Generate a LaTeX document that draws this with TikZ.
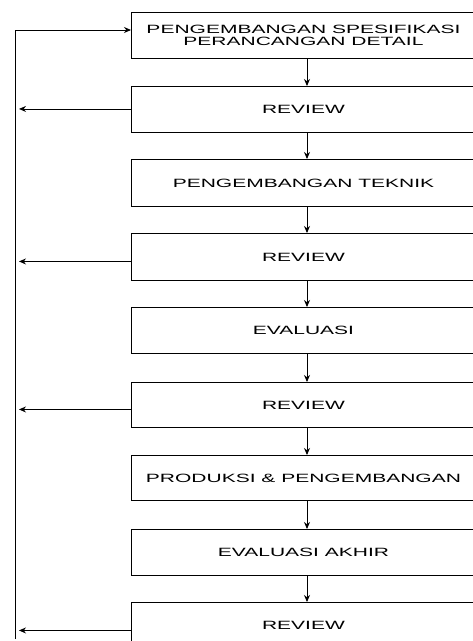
\documentclass[tikz,border=0pt]{standalone}
\usepackage{fontspec}
\newfontfamily\boxfont[FakeStretch=1.75]{Liberation Sans}
\usetikzlibrary{arrows.meta}
\tikzset{
  box/.style={draw, line width=0.9pt, anchor=north west, minimum width=344pt,
    inner sep=0pt, align=center, font=\boxfont\fontsize{12}{12}\selectfont},
  arr/.style={line width=0.9pt, -{Stealth[length=7pt,width=6pt]}},
  wire/.style={line width=0.9pt}
}
\begin{document}
\begin{tikzpicture}[x=1pt,y=-1pt]
\clip (0,0) rectangle (473,641);
\useasboundingbox (0,0) rectangle (473,641);
\node[box, minimum height=46pt] (b1) at (131,12) {PENGEMBANGAN SPESIFIKASI\\PERANCANGAN DETAIL};
\node[box, minimum height=46pt] (b2) at (131,86) {REVIEW};
\node[box, minimum height=47pt] (b3) at (131,159) {PENGEMBANGAN TEKNIK};
\node[box, minimum height=47pt] (b4) at (131,233) {REVIEW};
\node[box, minimum height=46pt] (b5) at (131,307) {EVALUASI};
\node[box, minimum height=45pt] (b6) at (131,382) {REVIEW};
\node[box, minimum height=45pt] (b7) at (131,455) {PRODUKSI \& PENGEMBANGAN};
\node[box, minimum height=46pt] (b8) at (131,529) {EVALUASI AKHIR};
\node[box, minimum height=46pt] (b9) at (131,602) {REVIEW};
\coordinate (LT) at (15,30);
\coordinate (LB) at (15,639);
\coordinate (LA) at (19,0);
\coordinate (AX) at (307,0);
% vertical flow arrows
\foreach \a/\b in {b1/b2,b2/b3,b3/b4,b4/b5,b5/b6,b6/b7,b7/b8,b8/b9}{
  \draw[arr] (\a.south -| AX) -- (\b.north -| AX);
}
% feedback line
\draw[wire] (LB) -- (LT);
\draw[arr] (LT) -- (LT -| b1.west);
\draw[arr] ([yshift=0.5pt]b2.west) -- ([yshift=0.5pt]b2.west -| LA);
\draw[arr] ([yshift=-4.5pt]b4.west) -- ([yshift=-4.5pt]b4.west -| LA);
\draw[arr] ([yshift=-4.5pt]b6.west) -- ([yshift=-4.5pt]b6.west -| LA);
\draw[arr] ([yshift=-5pt]b9.west) -- ([yshift=-5pt]b9.west -| LA);
\end{tikzpicture}
\end{document}
